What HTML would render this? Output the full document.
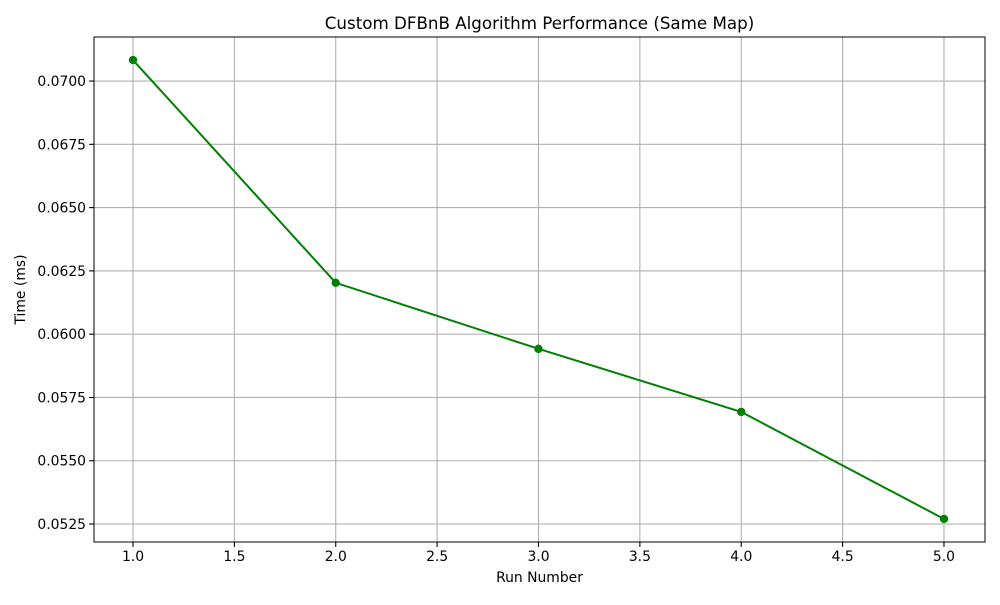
<!DOCTYPE html>
<html><head><meta charset="utf-8">
<style>
body{margin:0;background:#fff;font-family:"Liberation Sans","DejaVu Sans",sans-serif;}
svg text{font-family:"DejaVu Sans","Liberation Sans",sans-serif;}
</style></head>
<body>
<svg id="chart" width="1000" height="600" xmlns="http://www.w3.org/2000/svg">
<rect width="1000" height="600" fill="#fff"/>
<g id="grid"></g>
<g id="ticks"></g>
<g id="series"></g>
<rect x="94" y="37" width="891" height="505" fill="none" stroke="#000" stroke-width="1"/>
<text x="539.5" y="29" text-anchor="middle" font-size="16.7">Custom DFBnB Algorithm Performance (Same Map)</text>
<text x="539.5" y="582" text-anchor="middle" font-size="13.9">Run Number</text>
<text transform="translate(25,289.5) rotate(-90)" text-anchor="middle" font-size="13.9">Time (ms)</text>
</svg>
<script>
const runs = [1, 2, 3, 4, 5];
const times = [0.07083, 0.06203, 0.05942, 0.05693, 0.0527];
const xTicks = [1.0, 1.5, 2.0, 2.5, 3.0, 3.5, 4.0, 4.5, 5.0];
const yTicks = [0.0525, 0.0550, 0.0575, 0.0600, 0.0625, 0.0650, 0.0675, 0.0700];

const L=94,R=985,T=37,B=542;
const xMin=0.8077,xMax=5.2023,yMin=0.05179,yMax=0.07174;
const sx=v=>L+(v-xMin)/(xMax-xMin)*(R-L);
const sy=v=>B-(v-yMin)/(yMax-yMin)*(B-T);
const NS="http://www.w3.org/2000/svg";
function mk(tag,attrs,parent){const e=document.createElementNS(NS,tag);for(const k in attrs)e.setAttribute(k,attrs[k]);parent.appendChild(e);return e;}
const grid=document.getElementById('grid'),ticks=document.getElementById('ticks'),series=document.getElementById('series');
xTicks.forEach(t=>{
  const x=sx(t);
  const g=mk('line',{x1:x,x2:x,y1:T,y2:B,stroke:'#b0b0b0','stroke-width':1.1},grid);
  
  
  mk('line',{x1:x,x2:x,y1:B,y2:B+4.9,stroke:'#000','stroke-width':1.1},ticks);
  const tx=mk('text',{x:x,y:B+19,'text-anchor':'middle','font-size':13.9},ticks);
  tx.textContent=t.toFixed(1);
  
  
});
yTicks.forEach(t=>{
  const y=sy(t);
  const g=mk('line',{x1:L,x2:R,y1:y,y2:y,stroke:'#b0b0b0','stroke-width':1.1},grid);
  
  
  mk('line',{x1:L-4.9,x2:L,y1:y,y2:y,stroke:'#000','stroke-width':1.1},ticks);
  const tx=mk('text',{x:L-8,y:y+5,'text-anchor':'end','font-size':13.9},ticks);
  tx.textContent=t.toFixed(4);
  
  
});
const pts=runs.map((r,i)=>sx(r)+','+sy(times[i])).join(' ');
const line=mk('polyline',{points:pts,fill:'none',stroke:'#008000','stroke-width':2},series);


runs.forEach((r,i)=>{
  const c=mk('circle',{cx:sx(r),cy:sy(times[i]),r:4.2,fill:'#008000'},series);
  
  
});
</script>
</body></html>
